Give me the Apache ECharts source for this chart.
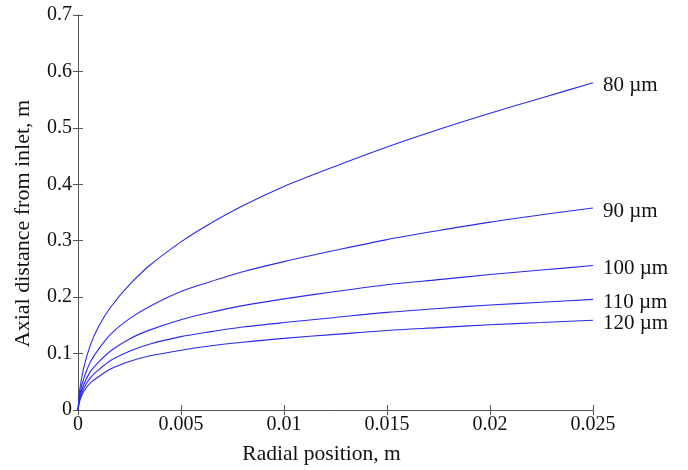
<!DOCTYPE html>
<html>
<head>
<meta charset="utf-8">
<script src="https://cdn.jsdelivr.net/npm/echarts@6/dist/echarts.min.js"></script>
<style>html,body{margin:0;padding:0;background:#fff;}#c{width:688px;height:470px;}</style>
</head>
<body>
<div id="c"></div>
<script>
var radial = [0, 0.0001, 0.0003, 0.0006, 0.001, 0.0016, 0.0025, 0.0035, 0.005, 0.0063, 0.008, 0.01, 0.0125, 0.015, 0.0175, 0.02, 0.0225, 0.025];
var seriesNames = ['80 µm', '90 µm', '100 µm', '110 µm', '120 µm'];
var d80  = [0, 0.040, 0.078, 0.115, 0.148, 0.183, 0.222, 0.257, 0.298, 0.328, 0.362, 0.396, 0.432, 0.466, 0.497, 0.526, 0.553, 0.580];
var d90  = [0, 0.030, 0.058, 0.085, 0.108, 0.135, 0.162, 0.184, 0.210, 0.226, 0.245, 0.263, 0.283, 0.302, 0.318, 0.333, 0.346, 0.358];
var d100 = [0, 0.025, 0.047, 0.068, 0.085, 0.105, 0.126, 0.142, 0.160, 0.172, 0.185, 0.197, 0.210, 0.222, 0.231, 0.240, 0.248, 0.256];
var d110 = [0, 0.021, 0.040, 0.057, 0.071, 0.088, 0.104, 0.117, 0.130, 0.138, 0.147, 0.155, 0.164, 0.173, 0.180, 0.186, 0.191, 0.196];
var d120 = [0, 0.018, 0.034, 0.048, 0.059, 0.073, 0.086, 0.096, 0.106, 0.113, 0.120, 0.127, 0.134, 0.141, 0.146, 0.151, 0.155, 0.159];
var xTicks = [0, 0.005, 0.01, 0.015, 0.02, 0.025];
var yTicks = [0, 0.1, 0.2, 0.3, 0.4, 0.5, 0.6, 0.7];

var allData = [d80, d90, d100, d110, d120];
var font = '"Liberation Serif", "Times New Roman", serif';
var axisColor = '#555';

function pairs(arr) { return radial.map(function (x, i) { return [x, arr[i]]; }); }
function pick(list) {
  return function (v) { var r = list.filter(function (t) { return Math.abs(t - v) < 1e-9; }); return r.length ? String(r[0]) : ''; };
}

var chart = echarts.init(document.getElementById('c'), null, {renderer: 'canvas'});
var baseAxisLine = {show: true, lineStyle: {color: axisColor, width: 1}};
var tick = {show: true, inside: true, length: 5, lineStyle: {color: axisColor}};
chart.setOption({
  backgroundColor: '#fff',
  animation: false,
  grid: {left: 78, right: 95, top: 15, bottom: 60},
  xAxis: [{
    type: 'value', min: 0, max: 0.025, interval: 0.005,
    name: 'Radial position, m', nameLocation: 'middle', nameGap: 33,
    nameTextStyle: {fontFamily: font, fontSize: 21.5, color: '#111', padding: [0, 28, 0, 0]},
    axisLine: baseAxisLine, axisTick: tick, splitLine: {show: false},
    axisLabel: {fontFamily: font, fontSize: 20, color: '#111', margin: 5, formatter: pick(xTicks)}
  }, {
    type: 'value', position: 'top', min: 0, max: 0.025, interval: 0.005,
    axisLine: baseAxisLine, axisTick: tick, axisLabel: {show: false}, splitLine: {show: false}
  }],
  yAxis: [{
    type: 'value', min: 0, max: 0.7, interval: 0.1,
    name: 'Axial distance from inlet, m', nameLocation: 'middle', nameGap: 44,
    nameTextStyle: {fontFamily: font, fontSize: 22, color: '#111', padding: [0, 22, 0, 0]},
    axisLine: baseAxisLine, axisTick: tick, splitLine: {show: false},
    axisLabel: {fontFamily: font, fontSize: 20, color: '#111', margin: 6, formatter: pick(yTicks)}
  }, {
    type: 'value', position: 'right', min: 0, max: 0.7, interval: 0.1,
    axisLine: baseAxisLine, axisTick: tick, axisLabel: {show: false}, splitLine: {show: false}
  }],
  series: allData.map(function (arr, i) {
    return {
      name: seriesNames[i], type: 'line', data: pairs(arr), smooth: 0.3,
      showSymbol: false, symbol: 'none',
      lineStyle: {color: '#2a2af0', width: 1.1},
      endLabel: {show: true, formatter: '{a}', color: '#111', fontFamily: font, fontSize: 21, distance: 10,
        offset: [0, 3]}
    };
  })
});
</script>
</body>
</html>
